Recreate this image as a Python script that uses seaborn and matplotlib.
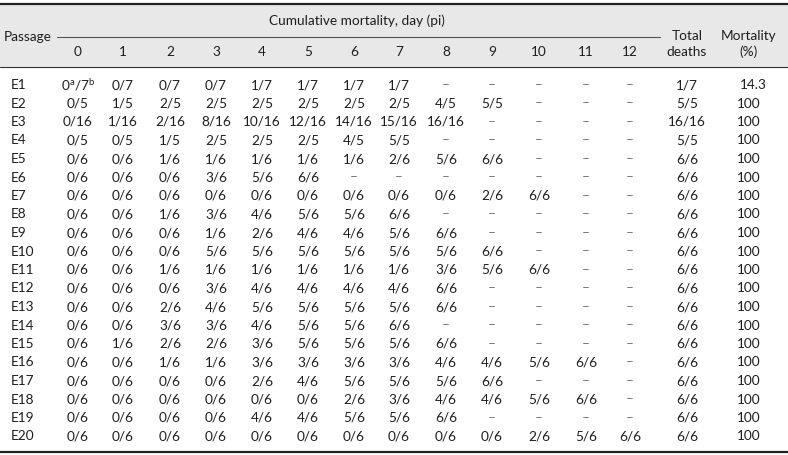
import numpy as np
import pandas as pd
import seaborn as sns
import matplotlib.pyplot as plt

# Table data: cumulative mortality per passage and day post inoculation
days = [str(d) for d in range(13)]
passages = ['E%d' % i for i in range(1, 21)]
D = '\u2013'
cumulative = [
    [r'0$^{\mathrm{a}}$/7$^{\mathrm{b}}$', '0/7', '0/7', '0/7', '1/7', '1/7', '1/7', '1/7', D, D, D, D, D],
    ['0/5', '1/5', '2/5', '2/5', '2/5', '2/5', '2/5', '2/5', '4/5', '5/5', D, D, D],
    ['0/16', '1/16', '2/16', '8/16', '10/16', '12/16', '14/16', '15/16', '16/16', D, D, D, D],
    ['0/5', '0/5', '1/5', '2/5', '2/5', '2/5', '4/5', '5/5', D, D, D, D, D],
    ['0/6', '0/6', '1/6', '1/6', '1/6', '1/6', '1/6', '2/6', '5/6', '6/6', D, D, D],
    ['0/6', '0/6', '0/6', '3/6', '5/6', '6/6', D, D, D, D, D, D, D],
    ['0/6', '0/6', '0/6', '0/6', '0/6', '0/6', '0/6', '0/6', '0/6', '2/6', '6/6', D, D],
    ['0/6', '0/6', '1/6', '3/6', '4/6', '5/6', '5/6', '6/6', D, D, D, D, D],
    ['0/6', '0/6', '0/6', '1/6', '2/6', '4/6', '4/6', '5/6', '6/6', D, D, D, D],
    ['0/6', '0/6', '0/6', '5/6', '5/6', '5/6', '5/6', '5/6', '5/6', '6/6', D, D, D],
    ['0/6', '0/6', '1/6', '1/6', '1/6', '1/6', '1/6', '1/6', '3/6', '5/6', '6/6', D, D],
    ['0/6', '0/6', '0/6', '3/6', '4/6', '4/6', '4/6', '4/6', '6/6', D, D, D, D],
    ['0/6', '0/6', '2/6', '4/6', '5/6', '5/6', '5/6', '5/6', '6/6', D, D, D, D],
    ['0/6', '0/6', '3/6', '3/6', '4/6', '5/6', '5/6', '6/6', D, D, D, D, D],
    ['0/6', '1/6', '2/6', '2/6', '3/6', '5/6', '5/6', '5/6', '6/6', D, D, D, D],
    ['0/6', '0/6', '1/6', '1/6', '3/6', '3/6', '3/6', '3/6', '4/6', '4/6', '5/6', '6/6', D],
    ['0/6', '0/6', '0/6', '0/6', '2/6', '4/6', '5/6', '5/6', '5/6', '6/6', D, D, D],
    ['0/6', '0/6', '0/6', '0/6', '0/6', '0/6', '2/6', '3/6', '4/6', '4/6', '5/6', '6/6', D],
    ['0/6', '0/6', '0/6', '0/6', '4/6', '4/6', '5/6', '5/6', '6/6', D, D, D, D],
    ['0/6', '0/6', '0/6', '0/6', '0/6', '0/6', '0/6', '0/6', '0/6', '0/6', '2/6', '5/6', '6/6'],
]
total_deaths = ['1/7', '5/5', '16/16', '5/5'] + ['6/6'] * 16
mortality = ['14.3'] + ['100'] * 19

sns.set_theme(style='white')
plt.rcParams['font.family'] = ['Lato', 'DejaVu Sans']
plt.rcParams['mathtext.fontset'] = 'custom'
plt.rcParams['mathtext.rm'] = 'Lato'

fig = plt.figure(figsize=(7.88, 4.55), dpi=100)
ax = fig.add_axes([0, 0, 1, 1])
ax.set_xlim(0, 788)
ax.set_ylim(455, 0)
ax.axis('off')

fs = 9.8
ink = '#1e1e1e'
col_x = np.array([78, 123, 170, 216, 262, 308, 354, 399, 446, 492, 539, 586, 630])
total_x, mort_x = 687, 749
row_y0, row_dy = 85, 18.5

# header background and rules
ax.add_patch(plt.Rectangle((0, 4), 788, 62.5, color='#e8e8e8', zorder=0))
ax.plot([0, 788], [4, 4], color='#222222', lw=1.6)
ax.plot([0, 788], [66.5, 66.5], color='#333333', lw=0.8)
ax.plot([0, 788], [452, 452], color='#222222', lw=1.6)
ax.plot([57, 660], [37, 37], color='#555555', lw=0.8)

ax.text(4, 37, 'Passage', fontsize=fs, ha='left', va='center', color=ink)
ax.text(357, 21, 'Cumulative mortality, day (pi)', fontsize=fs, ha='center', va='center', color=ink)
for x, d in zip(col_x, days):
    ax.text(x, 52, d, fontsize=fs, ha='center', va='center', color=ink)
ax.text(total_x, 36, 'Total', fontsize=fs, ha='center', va='center', color=ink)
ax.text(total_x, 52, 'deaths', fontsize=fs, ha='center', va='center', color=ink)
ax.text(mort_x, 36, 'Mortality', fontsize=fs, ha='center', va='center', color=ink)
ax.text(mort_x, 52, '(%)', fontsize=fs, ha='center', va='center', color=ink)

for i, p in enumerate(passages):
    y = row_y0 + i * row_dy
    ax.text(11, y, p, fontsize=fs, ha='left', va='center', color=ink)
    for x, v in zip(col_x, cumulative[i]):
        c = '#777777' if v == D else ink
        ax.text(x, y, v, fontsize=fs, ha='center', va='center', color=c)
    ax.text(total_x, y, total_deaths[i], fontsize=fs, ha='center', va='center', color=ink)
    off = 4 if '.' in mortality[i] else 0
    ax.text(mort_x + off, y, mortality[i], fontsize=fs, ha='center', va='center', color=ink)

fig.savefig('out.png', dpi=100)
